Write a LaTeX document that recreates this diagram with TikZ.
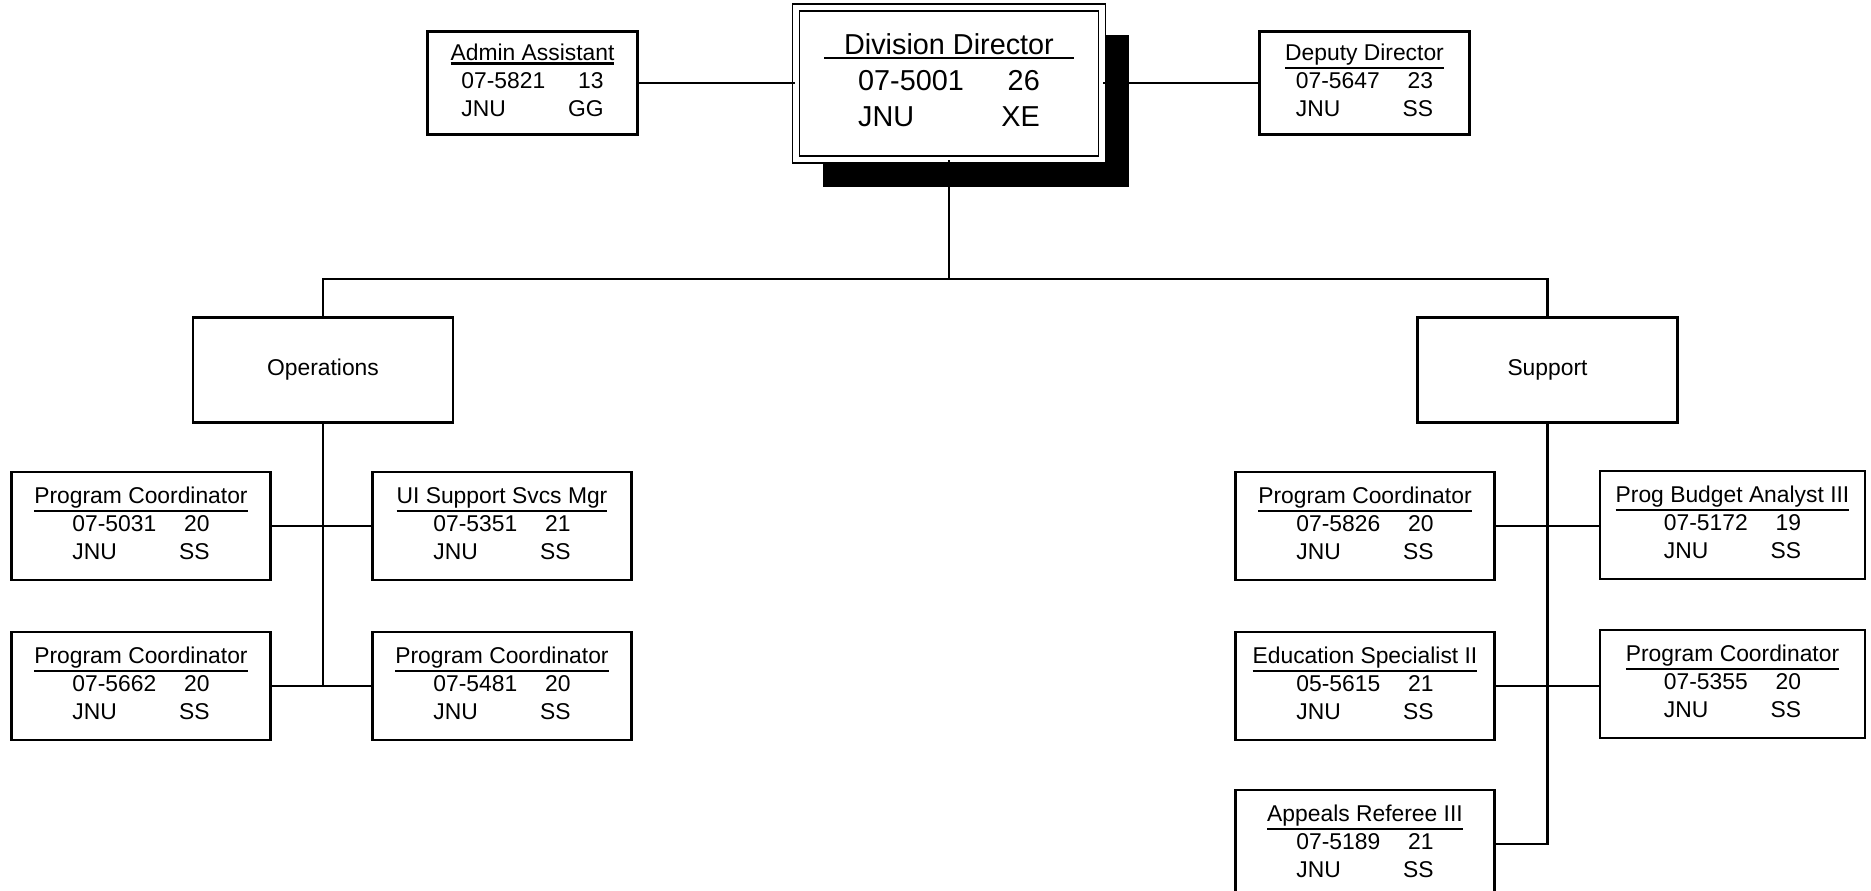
\documentclass[tikz,border=0pt]{standalone}
\usepackage{fontspec}
\setmainfont{Liberation Sans}
\usetikzlibrary{shadows}

\newcommand{\uln}[2][0pt]{\setbox0=\hbox{\hspace{#1}#2\hspace{#1}}\vtop{\copy0\kern.4pt\hrule height .7pt}}
\newcommand{\post}[5]{\begin{tabular}{@{}c@{}}\uln{#1}\\
  \begin{tabular}[t]{@{}l@{\hspace{1em}}r@{}}#2&#3\\#4&#5\end{tabular}\end{tabular}}

\begin{document}
\begin{tikzpicture}[x=0.1mm, y=-0.1mm,
  box/.style={draw, line width=.8pt, fill=white, inner sep=0pt,
    minimum width=25.9mm, minimum height=10.8mm,
    font=\fontsize{6.5pt}{8pt}\selectfont},
  unit/.style={box, minimum width=26mm, minimum height=10.5mm},
  side/.style={box, minimum width=21mm, minimum height=10.3mm},
  chief/.style={draw, double, line width=.5pt, double distance=1.5pt,
    fill=white, inner sep=0pt, minimum width=30.6mm, minimum height=15.2mm,
    font=\fontsize{8.2pt}{10.2pt}\selectfont,
    drop shadow={fill=black, opacity=1, shadow xshift=2.7mm, shadow yshift=-2.7mm}},
  link/.style={line width=.8pt}]

\path[use as bounding box, fill=white] (0,0) rectangle (1871,891);

\node[chief] (dir) at (949,83.5)
  {\begin{tabular}{@{}c@{}}\uln[5.7pt]{Division Director}\\
   \begin{tabular}[t]{@{}l@{\hspace{1.3em}}r@{}}07-5001&26\\JNU&XE\end{tabular}\end{tabular}};
\node[side] (admin) at (532.5,83) {\post{Admin Assistant}{07-5821}{13}{JNU}{GG}};
\node[side] (dep) at (1364.5,83) {\post{Deputy Director}{07-5647}{23}{JNU}{SS}};

\node[unit] (ops) at (323,370) {Operations};
\node[unit] (sup) at (1547.5,370) {Support};

\node[box] (pc1) at (141,526) {\post{Program Coordinator}{07-5031}{20}{JNU}{SS}};
\node[box] (ui) at (502,526) {\post{UI Support Svcs Mgr}{07-5351}{21}{JNU}{SS}};
\node[box] (pc2) at (141,686) {\post{Program Coordinator}{07-5662}{20}{JNU}{SS}};
\node[box] (pc3) at (502,686) {\post{Program Coordinator}{07-5481}{20}{JNU}{SS}};

\node[box] (pc4) at (1365,526) {\post{Program Coordinator}{07-5826}{20}{JNU}{SS}};
\node[box, minimum width=26.5mm] (pba) at (1732.5,525) {\post{Prog Budget Analyst III}{07-5172}{19}{JNU}{SS}};
\node[box] (edu) at (1365,686) {\post{Education Specialist II}{05-5615}{21}{JNU}{SS}};
\node[box, minimum width=26.5mm] (pc5) at (1732.5,684) {\post{Program Coordinator}{07-5355}{20}{JNU}{SS}};
\node[box] (ref) at (1365,844) {\post{Appeals Referee III}{07-5189}{21}{JNU}{SS}};

\coordinate (bus) at (949,279);

\draw[link] (admin.east) -- (admin.east -| dir.west);
\draw[link] (dep.west) -- (dep.west -| dir.east);
\draw[link] (dir.south) -- (bus);
\draw[link] (ops.north) |- (bus) -| (sup.north);
\draw[link] (ops.south) -- (ops.south |- pc2.east);
\draw[link] (pc1.east) -- (ui.west);
\draw[link] (pc2.east) -- (pc3.west);
\draw[link] (sup.south) |- (ref.east);
\draw[link] (pc4.east) -- (pc4.east -| pba.west);
\draw[link] (edu.east) -- (edu.east -| pc5.west);
\end{tikzpicture}
\end{document}
